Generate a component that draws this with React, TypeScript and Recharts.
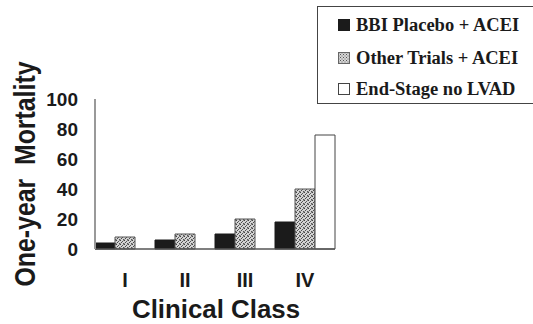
import React from 'react';
import { BarChart, Bar, XAxis, YAxis, Legend } from 'recharts';

const categories = ['I', 'II', 'III', 'IV'];
const bbiPlacebo = [4, 6, 10, 18];
const otherTrials = [8, 10, 20, 40];
const endStage: (number | null)[] = [null, null, null, 76];
const yTicks = [0, 20, 40, 60, 80, 100];
const seriesNames = ['BBI Placebo + ACEI', 'Other Trials + ACEI', 'End-Stage no LVAD'];

const data = categories.map((c, i) => ({
  cls: c,
  bbi: bbiPlacebo[i],
  other: otherTrials[i],
  end: endStage[i],
}));

const SANS = '"Liberation Sans", Arial, sans-serif';
const SERIF = '"Liberation Serif", "Times New Roman", serif';

const markerStyles: React.CSSProperties[] = [
  { background: '#1b1b1b', border: '1px solid #1b1b1b' },
  {
    backgroundColor: '#d6d6d6',
    backgroundImage:
      'radial-gradient(#555 0.8px, transparent 0.9px), radial-gradient(#666 0.8px, transparent 0.9px)',
    backgroundSize: '3px 3px',
    backgroundPosition: '0 0, 1.5px 1.5px',
    border: '1px solid #666',
  },
  { background: '#fff', border: '1px solid #444' },
];

const LegendBox = () => (
  <div
    style={{
      boxSizing: 'border-box',
      width: 216,
      height: 98,
      borderTop: '1.5px solid #444',
      borderLeft: '1.5px solid #444',
      borderBottom: '1.5px solid #444',
      background: '#fff',
      position: 'relative',
    }}
  >
    {seriesNames.map((name, i) => (
      <div
        key={name}
        style={{
          position: 'absolute',
          left: 20,
          top: [18, 51, 82][i] - 11,
          height: 22,
          display: 'flex',
          alignItems: 'center',
          whiteSpace: 'nowrap',
          fontFamily: SERIF,
          fontWeight: 'bold',
          fontSize: 18.5,
          color: '#1a1a1a',
        }}
      >
        <span
          style={{
            display: 'inline-block',
            boxSizing: 'border-box',
            width: 12,
            height: 12,
            marginRight: 6,
            ...markerStyles[i],
          }}
        />
        {name}
      </div>
    ))}
  </div>
);

const YLabel = () => (
  <text
    x={35}
    y={174}
    transform="rotate(-90 35 174)"
    textAnchor="middle"
    fontFamily={SANS}
    fontWeight="bold"
    fontSize={29}
    fill="#1a1a1a"
    textLength={225}
    lengthAdjust="spacingAndGlyphs"
    style={{ whiteSpace: 'pre' }}
  >
    One-year  Mortality
  </text>
);

const XLabel = () => (
  <text
    x={216}
    y={318}
    textAnchor="middle"
    fontFamily={SANS}
    fontWeight="bold"
    fontSize={25}
    fill="#1a1a1a"
    textLength={168}
    lengthAdjust="spacingAndGlyphs"
  >
    Clinical Class
  </text>
);

export default function App() {
  return (
    <div style={{ position: 'absolute', left: 0, top: 0, width: 533, height: 324, background: '#fff' }}>
      <BarChart
        width={533}
        height={324}
        data={data}
        margin={{ top: 99, right: 198, bottom: 45, left: 0 }}
        barCategoryGap={0}
        barGap={0}
      >
        <defs>
          <pattern id="speckle" width="4" height="4" patternUnits="userSpaceOnUse">
            <rect width="4" height="4" fill="#d4d4d4" />
            <rect x="0" y="0" width="1" height="1" fill="#444" />
            <rect x="2" y="1" width="1" height="1" fill="#555" />
            <rect x="1" y="2" width="1" height="1" fill="#4a4a4a" />
            <rect x="3" y="3" width="1" height="1" fill="#555" />
            <rect x="3" y="0" width="1" height="1" fill="#888" />
            <rect x="0" y="3" width="1" height="1" fill="#999" />
          </pattern>
        </defs>
        <XAxis
          dataKey="cls"
          height={30}
          axisLine={{ stroke: '#555', strokeWidth: 1.5 }}
          tickLine={false}
          tickSize={0}
          tickMargin={24}
          interval={0}
          tick={{ fontFamily: SANS, fontWeight: 'bold', fontSize: 20, fill: '#1a1a1a' }}
          label={<XLabel />}
        />
        <YAxis
          width={95}
          domain={[0, 100]}
          ticks={yTicks}
          interval={0}
          axisLine={{ stroke: '#999', strokeWidth: 2 }}
          tickLine={false}
          tickSize={0}
          tickMargin={17}
          tick={{ fontFamily: SANS, fontWeight: 'bold', fontSize: 19, fill: '#1a1a1a' }}
          label={<YLabel />}
        />
        <Legend
          layout="vertical"
          align="center"
          verticalAlign="middle"
          wrapperStyle={{ left: 317, top: 6, width: 216, height: 98 }}
          content={() => <LegendBox />}
        />
        <Bar dataKey="bbi" name={seriesNames[0]} fill="#1b1b1b" stroke="#1b1b1b" strokeWidth={1} isAnimationActive={false} />
        <Bar dataKey="other" name={seriesNames[1]} fill="url(#speckle)" stroke="#555" strokeWidth={1} isAnimationActive={false} />
        <Bar dataKey="end" name={seriesNames[2]} fill="#ffffff" stroke="#444" strokeWidth={1} isAnimationActive={false} />
      </BarChart>
    </div>
  );
}
